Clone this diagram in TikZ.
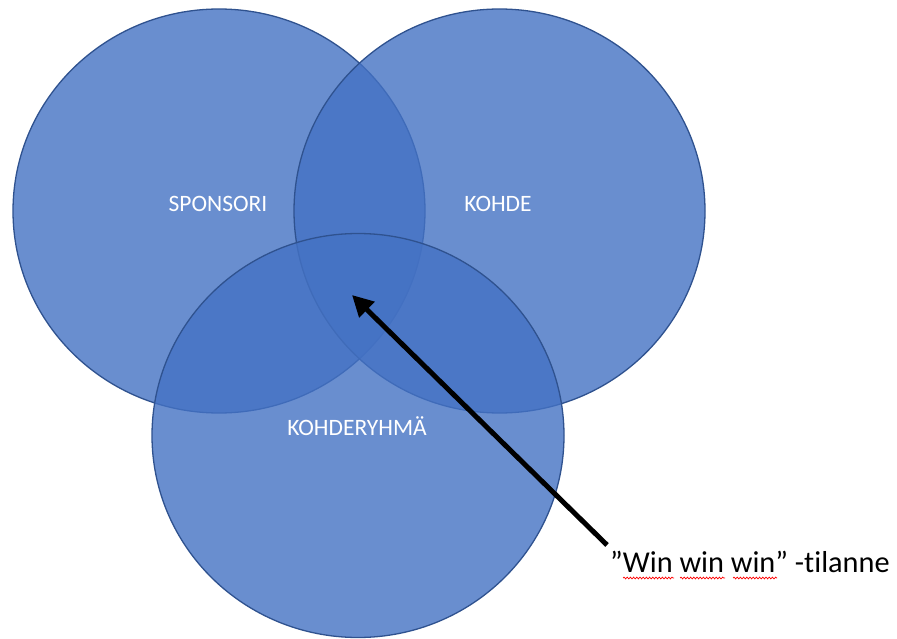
\documentclass[tikz,border=0pt]{standalone}
\usepackage{fontspec}
\setmainfont{Carlito}[Ligatures=NoCommon]
\usetikzlibrary{arrows.meta,decorations.pathmorphing}
\definecolor{vfill}{HTML}{4472C4}
\definecolor{vline}{HTML}{2F528F}
\tikzset{
  venn/.style={draw=vline, line width=1.3pt, fill=vfill, fill opacity=0.8},
  vlabel/.style={text=white, font=\fontsize{23.5}{27}\selectfont, anchor=base, inner sep=0pt},
  pointer/.style={line width=5pt, draw=black, -{Triangle[length=21pt,width=21pt]}},
  squiggle/.style={draw=red, line width=0.7pt, decorate, decoration={snake, amplitude=0.9pt, segment length=3.2pt}}
}
\begin{document}
\begin{tikzpicture}[x=1pt,y=-1pt]
\useasboundingbox (0,0) rectangle (897,639);
\fill[white] (0,0) rectangle (897,639);
% circles
\draw[venn] (219,211) ellipse [x radius=206, y radius=202];
\draw[venn] (499.5,211) ellipse [x radius=205.5, y radius=202];
\draw[venn] (358,435.5) ellipse [x radius=206, y radius=202];
% labels
\node[vlabel] (sponsori) at (218,212) {SPONSORI};
\node[vlabel] (kohde) at (498,212) {KOHDE};
\node[vlabel] (ryhma) at (357,435) {KOHDERYHMÄ};
% caption
\node[anchor=base west, inner sep=0pt, font=\fontsize{30.3}{34}\selectfont] (win) at (610,572) {”Win win win” -tilanne};
\coordinate (tip) at (352,295);
\coordinate (tail) at ([xshift=-3pt,yshift=27pt]win.base west);
\draw[pointer] (tail) -- (tip);
% spell-check underlines
\draw[squiggle] (623,578) -- (674,578);
\draw[squiggle] (680,578) -- (725,578);
\draw[squiggle] (733,578) -- (777,578);
\end{tikzpicture}
\end{document}
